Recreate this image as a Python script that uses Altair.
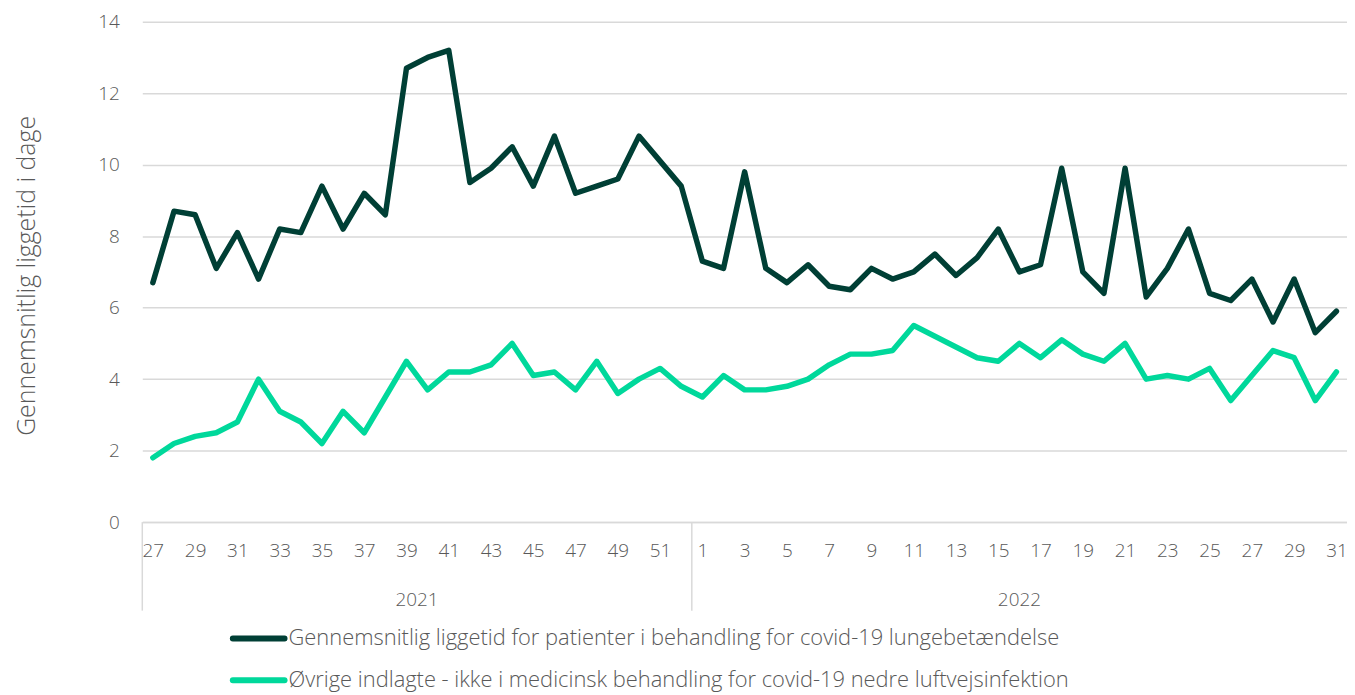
import altair as alt
import pandas as pd

weeks_2021 = list(range(27, 53))
weeks_2022 = list(range(1, 32))
years = ["2021", "2022"]

series_names = [
    "Gennemsnitlig liggetid for patienter i behandling for covid-19 lungebetændelse",
    "Øvrige indlagte - ikke i medicinsk behandling for covid-19 nedre luftvejsinfektion",
]

dark_2021 = [6.7, 8.7, 8.6, 7.1, 8.1, 6.8, 8.2, 8.1, 9.4, 8.2, 9.2, 8.6, 12.7, 13.0, 13.2,
             9.5, 9.9, 10.5, 9.4, 10.8, 9.2, 9.4, 9.6, 10.8, 10.1, 9.4]
dark_2022 = [7.3, 7.1, 9.8, 7.1, 6.7, 7.2, 6.6, 6.5, 7.1, 6.8, 7.0, 7.5, 6.9, 7.4, 8.2,
             7.0, 7.2, 9.9, 7.0, 6.4, 9.9, 6.3, 7.1, 8.2, 6.4, 6.2, 6.8, 5.6, 6.8, 5.3, 5.9]
green_2021 = [1.8, 2.2, 2.4, 2.5, 2.8, 4.0, 3.1, 2.8, 2.2, 3.1, 2.5, 3.5, 4.5, 3.7, 4.2,
              4.2, 4.4, 5.0, 4.1, 4.2, 3.7, 4.5, 3.6, 4.0, 4.3, 3.8]
green_2022 = [3.5, 4.1, 3.7, 3.7, 3.8, 4.0, 4.4, 4.7, 4.7, 4.8, 5.5, 5.2, 4.9, 4.6, 4.5,
              5.0, 4.6, 5.1, 4.7, 4.5, 5.0, 4.0, 4.1, 4.0, 4.3, 3.4, 4.1, 4.8, 4.6, 3.4, 4.2]

week_labels = [str(w) for w in weeks_2021] + [str(w) for w in weeks_2022]
n = len(week_labels)

rows = []
for name, vals in zip(series_names, [dark_2021 + dark_2022, green_2021 + green_2022]):
    for i, v in enumerate(vals):
        rows.append({"idx": i, "week": week_labels[i], "serie": name, "value": v})
df = pd.DataFrame(rows)

n21 = len(weeks_2021)
year_df = pd.DataFrame({
    "year": years,
    "start": [-0.5, n21 - 0.5],
    "mid": [(n21 - 1) / 2, (n21 - 0.5 + n - 0.5) / 2],
})
legend_df = pd.DataFrame({"serie": series_names, "row": [0, 1]})

DARK = "#003F35"
GREEN = "#00D89B"
GREY = "#595959"
GRID = "#D9D9D9"
FONT = "Open Sans"

W, H = 1211, 503

xscale = alt.Scale(domain=[-0.5, n - 0.5], nice=False, zero=False)
cscale = alt.Scale(domain=series_names, range=[DARK, GREEN])

lines = alt.Chart(df).mark_line(strokeWidth=5.5, strokeCap="round", strokeJoin="round").encode(
    x=alt.X("idx:Q", scale=xscale,
            axis=alt.Axis(values=list(range(0, n, 2)),
                          labelExpr=f"datum.value < {n21} ? datum.value + 27 : datum.value - {n21 - 1}",
                          title=None, grid=False, ticks=False, domain=True,
                          domainColor=GRID, domainWidth=1.5,
                          labelFontSize=19, labelColor=GREY, labelFont=FONT, labelFontWeight=300,
                          labelPadding=20, labelFlush=False, labelOverlap=False)),
    y=alt.Y("value:Q", scale=alt.Scale(domain=[0, 14], nice=False),
            axis=alt.Axis(values=list(range(0, 15, 2)), title="Gennemsnitlig liggetid i dage",
                          grid=True, gridColor=GRID, gridWidth=1.5, domain=False, ticks=False,
                          labelFontSize=19, labelColor=GREY, labelFont=FONT, labelFontWeight=300,
                          labelPadding=23,
                          titleFontSize=25, titleColor=GREY, titleFont=FONT, titleFontWeight=300,
                          titleX=-116, titleY=255, titleAngle=-90,
                          titleAlign="center", titleBaseline="middle")),
    color=alt.Color("serie:N", scale=cscale, legend=None),
    order="idx:Q",
)

dividers = alt.Chart(year_df).mark_rule(color=GRID, strokeWidth=1.5).encode(
    x=alt.X("start:Q", scale=xscale),
    y=alt.value(H),
    y2=alt.value(H + 89),
)

year_text = alt.Chart(year_df).mark_text(fontSize=19, color=GREY, font=FONT, fontWeight=300,
                                         baseline="middle").encode(
    x=alt.X("mid:Q", scale=xscale),
    y=alt.value(H + 78),
    text="year:N",
)

leg_y = alt.Y("row:Q", scale=alt.Scale(domain=[0, 1], range=[H + 117, H + 159]), axis=None)

leg_sym = alt.Chart(legend_df).mark_rule(strokeWidth=6, strokeCap="round").encode(
    x=alt.value(91), x2=alt.value(143),
    y=leg_y,
    color=alt.Color("serie:N", scale=cscale, legend=None),
)
leg_txt = alt.Chart(legend_df).mark_text(fontSize=22, color=GREY, font=FONT, fontWeight=300,
                                         align="left", baseline="middle").encode(
    x=alt.value(147),
    y=leg_y,
    text="serie:N",
)

chart = alt.layer(lines, dividers, year_text, leg_sym, leg_txt).resolve_scale(
    y="independent"
).properties(
    width=W, height=H,
    padding={"left": 135, "top": 12, "right": 0, "bottom": 171},
    autosize=alt.AutoSizeParams(type="none"),
).configure_view(stroke=None)

chart.save("out.html", embed_options={"renderer": "svg", "actions": False})
